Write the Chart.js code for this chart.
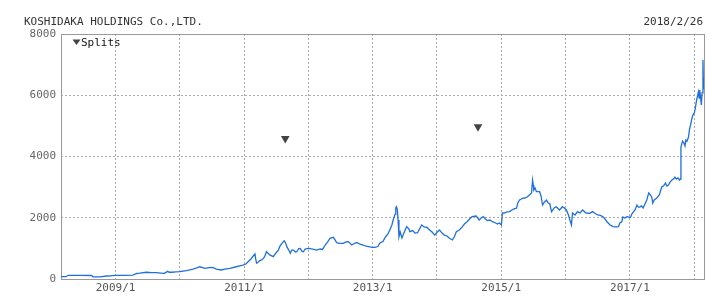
<!DOCTYPE html>
<html>
<head>
<meta charset="utf-8">
<script src="https://cdn.jsdelivr.net/npm/chart.js@4"></script>
<style>
  html, body { margin: 0; padding: 0; background: #fff; }
  canvas { display: block; }
</style>
</head>
<body>
<canvas id="myChart" width="722" height="299"></canvas>
<script>
const title = 'KOSHIDAKA HOLDINGS Co.,LTD.';
const asOf = '2018/2/26';
const startDate = '2008-02-26';
const endDate = '2018-02-26';

// weekly-ish closing prices
const dates = [
  '2008-02-26','2008-03-25','2008-04-06','2008-06-13','2008-08-18','2008-08-26','2008-10-04','2008-11-12','2008-12-01','2008-12-30',
  '2009-02-22','2009-04-09','2009-05-01','2009-05-19','2009-06-25','2009-07-24','2009-08-20','2009-09-13','2009-10-05','2009-10-24',
  '2009-11-02','2009-11-18','2009-12-08',
  '2010-01-01','2010-02-08','2010-02-26','2010-03-17','2010-04-07','2010-04-24','2010-05-11','2010-05-23','2010-06-09','2010-06-29',
  '2010-07-13','2010-07-28','2010-08-25','2010-09-13','2010-10-12','2010-11-18','2010-12-06','2010-12-26',
  '2011-01-11','2011-01-24','2011-02-09','2011-02-22','2011-03-04','2011-03-08','2011-03-13','2011-03-23','2011-04-01','2011-04-15',
  '2011-04-28','2011-05-08','2011-05-19','2011-05-27','2011-06-16','2011-07-01','2011-07-15','2011-07-24','2011-08-04','2011-08-17',
  '2011-08-25','2011-09-01','2011-09-12','2011-09-21','2011-09-29','2011-10-09','2011-10-20','2011-10-28','2011-11-07','2011-11-16',
  '2011-11-27','2011-12-04','2011-12-14','2011-12-25',
  '2012-01-04','2012-01-19','2012-02-02','2012-02-17','2012-03-08','2012-03-22','2012-04-06','2012-04-20','2012-05-03','2012-05-22',
  '2012-06-01','2012-06-10','2012-06-28','2012-07-18','2012-08-02','2012-08-15','2012-09-04','2012-09-17','2012-10-03','2012-10-20',
  '2012-11-07','2012-11-24','2012-12-10','2012-12-28',
  '2013-01-13','2013-01-30','2013-02-11','2013-02-28','2013-03-11','2013-03-28','2013-04-08','2013-04-20','2013-04-27','2013-05-08',
  '2013-05-12','2013-05-16','2013-05-21','2013-05-25','2013-05-30','2013-06-06','2013-06-16','2013-06-27','2013-07-13','2013-07-25',
  '2013-07-31','2013-08-16','2013-08-29','2013-09-13','2013-09-24','2013-10-06','2013-10-20','2013-11-03','2013-11-20','2013-12-04',
  '2013-12-19',
  '2014-01-03','2014-01-15','2014-01-30','2014-02-12','2014-02-27','2014-03-11','2014-03-29','2014-04-09','2014-04-21','2014-05-08',
  '2014-05-26','2014-06-06','2014-06-21','2014-07-05','2014-07-19','2014-08-12','2014-08-29','2014-09-09','2014-09-21','2014-10-03',
  '2014-10-14','2014-10-29','2014-11-12','2014-11-25','2014-12-10','2014-12-21',
  '2015-01-02','2015-01-08','2015-01-19','2015-02-03','2015-02-17','2015-03-03','2015-03-18','2015-03-29','2015-04-05','2015-04-15',
  '2015-04-26','2015-05-01','2015-05-15','2015-05-30','2015-06-10','2015-06-22','2015-06-28','2015-07-02','2015-07-05','2015-07-12',
  '2015-07-20','2015-08-07','2015-08-15','2015-08-24','2015-09-04','2015-09-16','2015-09-24','2015-10-03','2015-10-14','2015-10-29',
  '2015-11-10','2015-11-28','2015-12-15','2015-12-29',
  '2016-01-06','2016-01-18','2016-01-26','2016-02-04','2016-02-10','2016-02-24','2016-03-10','2016-03-24','2016-04-07','2016-04-27',
  '2016-05-17','2016-06-03','2016-06-18','2016-07-02','2016-07-17','2016-08-01','2016-08-12','2016-08-24','2016-09-10','2016-09-27',
  '2016-10-09','2016-10-20','2016-10-28','2016-11-05','2016-11-16','2016-11-22','2016-12-03','2016-12-15',
  '2017-01-04','2017-01-12','2017-01-21','2017-01-30','2017-02-10','2017-02-18','2017-02-26','2017-03-08','2017-03-17','2017-03-25',
  '2017-04-07','2017-04-18','2017-04-27','2017-05-05','2017-05-11','2017-05-19','2017-06-03','2017-06-17','2017-07-01','2017-07-13',
  '2017-07-22','2017-07-30','2017-08-08','2017-08-17','2017-08-28','2017-09-08','2017-09-14','2017-09-22','2017-10-01','2017-10-10',
  '2017-10-14','2017-10-18','2017-10-27','2017-11-04','2017-11-10','2017-11-15','2017-11-21','2017-11-30','2017-12-06','2017-12-12',
  '2017-12-17','2017-12-23','2017-12-29',
  '2018-01-02','2018-01-08','2018-01-14','2018-01-19','2018-01-25','2018-01-29','2018-02-02','2018-02-08','2018-02-11','2018-02-15',
  '2018-02-20','2018-02-22','2018-02-26'
];
const prices = [
  80, 75, 120, 120, 115, 72, 70, 98, 105, 120,
  118, 125, 180, 190, 220, 210, 205, 195, 185, 250,
  220, 220, 230,
  240, 270, 295, 325, 365, 400, 375, 350, 365, 380,
  360, 325, 295, 320, 350, 400, 425, 455,
  490, 565, 655, 750, 815, 655, 515, 555, 600, 635,
  730, 890, 830, 785, 730, 850, 945, 1075, 1165, 1250,
  1175, 1055, 945, 840, 945, 945, 880, 890, 995, 1000,
  900, 890, 980, 990,
  1000, 980, 965, 945, 980, 965, 1110, 1210, 1330, 1360,
  1275, 1185, 1165, 1165, 1210, 1220, 1110, 1160, 1190, 1135,
  1110, 1075, 1055, 1035,
  1030, 1060, 1175, 1225, 1340, 1470, 1600, 1765, 1925, 2120,
  2320, 2360, 2255, 1925, 1380, 1535, 1340, 1500, 1710, 1635,
  1545, 1580, 1500, 1510, 1635, 1765, 1700, 1690, 1600, 1535,
  1435,
  1535, 1600, 1500, 1435, 1405, 1340, 1275, 1370, 1545, 1600,
  1710, 1795, 1870, 1960, 2035, 2055, 1925, 1990, 2035, 1960,
  1905, 1925, 1870, 1845, 1795, 1830,
  1765, 2155, 2155, 2190, 2200, 2255, 2300, 2310, 2480, 2580,
  2610, 2635, 2645, 2685, 2745, 2800, 3230, 3070, 2905, 2970,
  2850, 2850, 2710, 2415, 2515, 2580, 2480, 2470, 2200, 2320,
  2360, 2255, 2360, 2300,
  2255, 2090, 1925, 1765, 2155, 2090, 2200, 2155, 2255, 2155,
  2145, 2200, 2140, 2090, 2075, 2035, 1960, 1870, 1765, 1710,
  1700, 1700, 1710, 1830, 1870, 2025, 1990, 2035,
  2010, 2120, 2190, 2255, 2415, 2350, 2350, 2385, 2320, 2415,
  2580, 2810, 2745, 2680, 2480, 2580, 2645, 2745, 3005, 3055,
  3135, 3035, 3070, 3165, 3230, 3280, 3330, 3265, 3300, 3230,
  3265, 4310, 4500, 4440, 4345, 4540, 4500, 4635, 4900, 5030,
  5190, 5320, 5390,
  5420, 5585, 5810, 5945, 6105, 5910, 6170, 5845, 5680, 6075,
  7150, 6600, 6200
];

const splitDates = ['2011-08-23', '2014-08-22'];
const splitLevels = [4590, 4970];

const yearTicks = [2009, 2010, 2011, 2012, 2013, 2014, 2015, 2016, 2017, 2018];
const yearLabels = ['2009/1', '', '2011/1', '', '2013/1', '', '2015/1', '', '2017/1', ''];
const yTicks = [0, 2000, 4000, 6000, 8000];

const toTime = (d) => Date.parse(d + 'T00:00:00Z');
const mono = "'DejaVu Sans Mono', monospace";

const decor = {
  id: 'decor',
  beforeDatasetsDraw(chart) {
    const { ctx, chartArea: a } = chart;
    ctx.save();
    ctx.strokeStyle = '#999';
    ctx.lineWidth = 1;
    ctx.strokeRect(a.left + 0.5, a.top + 0.5, a.right - a.left, a.bottom - a.top);
    ctx.restore();
  },
  afterDraw(chart) {
    const { ctx } = chart;
    ctx.save();
    ctx.font = '11px ' + mono;
    ctx.fillStyle = '#333';
    ctx.textBaseline = 'middle';
    ctx.textAlign = 'left';
    ctx.fillText(title, 24, 22);
    ctx.textAlign = 'right';
    ctx.fillText(asOf, 703, 22);

    // legend for the split markers
    ctx.fillStyle = '#444';
    ctx.beginPath();
    ctx.moveTo(72.5, 39.5);
    ctx.lineTo(80.5, 39.5);
    ctx.lineTo(76.5, 45);
    ctx.closePath();
    ctx.fill();
    ctx.fillStyle = '#111';
    ctx.textAlign = 'left';
    ctx.fillText('Splits', 81, 43.5);
    ctx.restore();
  }
};

const ctx = document.getElementById('myChart').getContext('2d');
const myChart = new Chart(ctx, {
  type: 'line',
  data: {
    datasets: [
      {
        label: 'Price',
        data: dates.map((d, i) => ({ x: toTime(d), y: prices[i] })),
        borderColor: '#1f6fdc',
        borderWidth: 1.3,
        pointRadius: 0,
        tension: 0,
        fill: false,
      },
      {
        label: 'Splits',
        data: splitDates.map((d, i) => ({ x: toTime(d), y: splitLevels[i] })),
        showLine: false,
        pointStyle: 'triangle',
        rotation: 180,
        pointRadius: 5,
        backgroundColor: '#444',
        borderColor: '#444',
        borderWidth: 0,
      },
    ],
  },
  options: {
    responsive: false,
    animation: false,
    devicePixelRatio: 1,
    events: [],
    layout: { padding: { left: 0, right: 18, top: 34, bottom: 0 } },
    plugins: {
      legend: { display: false },
      tooltip: { enabled: false },
    },
    scales: {
      x: {
        type: 'linear',
        min: toTime(startDate),
        max: toTime(endDate),
        afterBuildTicks: (scale) => {
          scale.ticks = yearTicks.map((y) => ({ value: Date.UTC(y, 0, 1) }));
        },
        afterFit: (scale) => { scale.height = 20; },
        grid: { color: '#aaa', drawTicks: false },
        border: { display: false, dash: [2, 2] },
        ticks: {
          autoSkip: false,
          maxRotation: 0,
          minRotation: 0,
          padding: 3,
          color: '#555',
          font: { family: mono, size: 11 },
          callback: (v, i) => yearLabels[i],
        },
      },
      y: {
        min: 0,
        max: 8000,
        afterBuildTicks: (scale) => {
          scale.ticks = yTicks.map((v) => ({ value: v }));
        },
        afterFit: (scale) => { scale.width = 61; },
        grid: { color: '#aaa', drawTicks: false },
        border: { display: false, dash: [2, 2] },
        ticks: {
          padding: 5,
          color: '#666',
          font: { family: mono, size: 11 },
          callback: (v) => String(v),
        },
      },
    },
  },
  plugins: [decor],
});
</script>
</body>
</html>
